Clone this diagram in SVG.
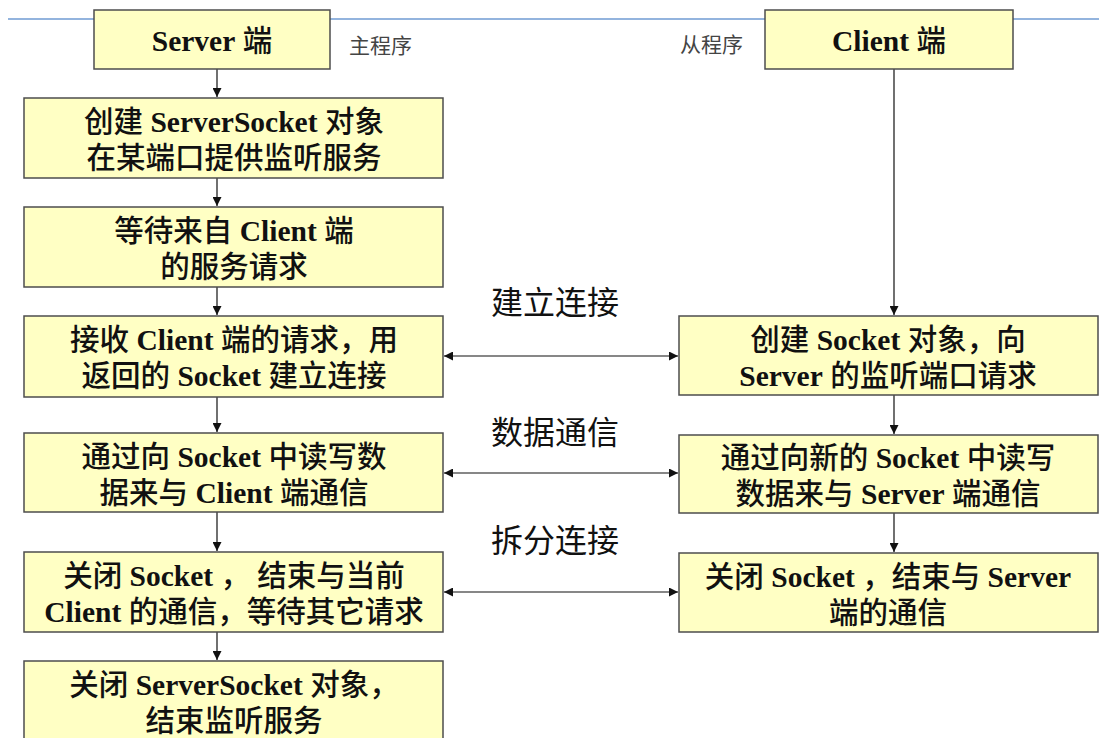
<svg xmlns="http://www.w3.org/2000/svg" width="1099" height="738" viewBox="0 0 1099 738">
<style>
.box{fill:#ffffc4;stroke:#4d4d4d;stroke-width:1.5}
.t{font-family:"Liberation Serif","Noto Sans CJK SC",serif;font-size:29.5px;font-weight:500;fill:#111;text-anchor:middle}
.b{font-weight:bold}
.lab{font-family:"Noto Sans CJK SC",sans-serif;font-size:32px;fill:#111;text-anchor:middle}
.sm{font-family:"Noto Sans CJK SC",sans-serif;font-size:21px;fill:#444}
.c{stroke:#111;stroke-width:1.2;fill:none}
</style>
<defs>
<marker id="ah" viewBox="0 0 10 10" refX="10" refY="5" markerWidth="9" markerHeight="9" markerUnits="userSpaceOnUse" orient="auto-start-reverse">
<path d="M0,0 L10,5 L0,10 z" fill="#111"/>
</marker>
</defs>
<line x1="8" y1="19" x2="1099" y2="19" stroke="#6f9bd3" stroke-width="1.5"/>
<text class="sm" x="349" y="53">主程序</text>
<text class="sm" x="680" y="52">从程序</text>
<g id="connectors">
<line class="c" x1="217" y1="69" x2="217" y2="97" marker-end="url(#ah)"/>
<line class="c" x1="217" y1="178" x2="217" y2="206" marker-end="url(#ah)"/>
<line class="c" x1="217" y1="287" x2="217" y2="315" marker-end="url(#ah)"/>
<line class="c" x1="217" y1="397" x2="217" y2="432" marker-end="url(#ah)"/>
<line class="c" x1="217" y1="512" x2="217" y2="551" marker-end="url(#ah)"/>
<line class="c" x1="217" y1="632" x2="217" y2="660" marker-end="url(#ah)"/>
<line class="c" x1="894" y1="69" x2="894" y2="315" marker-end="url(#ah)"/>
<line class="c" x1="894" y1="395" x2="894" y2="434" marker-end="url(#ah)"/>
<line class="c" x1="894" y1="513" x2="894" y2="552" marker-end="url(#ah)"/>
<line class="c" x1="444" y1="356" x2="678" y2="356" marker-start="url(#ah)" marker-end="url(#ah)"/>
<line class="c" x1="444" y1="473" x2="678" y2="473" marker-start="url(#ah)" marker-end="url(#ah)"/>
<line class="c" x1="444" y1="592" x2="678" y2="592" marker-start="url(#ah)" marker-end="url(#ah)"/>
</g>
<text class="lab" x="555" y="314">建立连接</text>
<text class="lab" x="555" y="444">数据通信</text>
<text class="lab" x="555" y="552">拆分连接</text>
<g id="server">
<rect class="box" x="94" y="10" width="236" height="59"/>
<text class="t" x="212" y="51"><tspan class="b">Server</tspan> 端</text>
</g>
<g id="client">
<rect class="box" x="765" y="10" width="248" height="59"/>
<text class="t" x="889" y="51"><tspan class="b">Client</tspan> 端</text>
</g>
<g id="s1">
<rect class="box" x="24" y="98" width="419" height="80"/>
<text class="t" x="234" y="132">创建 <tspan class="b">ServerSocket</tspan> 对象</text>
<text class="t" x="234" y="168">在某端口提供监听服务</text>
</g>
<g id="s2">
<rect class="box" x="24" y="207" width="419" height="80"/>
<text class="t" x="234" y="241">等待来自 <tspan class="b">Client</tspan> 端</text>
<text class="t" x="234" y="277">的服务请求</text>
</g>
<g id="s3">
<rect class="box" x="24" y="316" width="419" height="81"/>
<text class="t" x="234" y="350">接收 <tspan class="b">Client</tspan> 端的请求，用</text>
<text class="t" x="234" y="386">返回的 <tspan class="b">Socket</tspan> 建立连接</text>
</g>
<g id="s4">
<rect class="box" x="24" y="433" width="419" height="79"/>
<text class="t" x="234" y="467">通过向 <tspan class="b">Socket</tspan> 中读写数</text>
<text class="t" x="234" y="503">据来与 <tspan class="b">Client</tspan> 端通信</text>
</g>
<g id="s5">
<rect class="box" x="24" y="552" width="419" height="80"/>
<text class="t" x="234" y="586">关闭 <tspan class="b">Socket</tspan> ， 结束与当前</text>
<text class="t" x="234" y="622"><tspan class="b">Client</tspan> 的通信，等待其它请求</text>
</g>
<g id="s6">
<rect class="box" x="24" y="661" width="419" height="84"/>
<text class="t" x="234" y="695">关闭 <tspan class="b">ServerSocket</tspan> 对象，</text>
<text class="t" x="234" y="731">结束监听服务</text>
</g>
<g id="c1">
<rect class="box" x="679" y="316" width="419" height="79"/>
<text class="t" x="888" y="350">创建 <tspan class="b">Socket</tspan> 对象，向</text>
<text class="t" x="888" y="386"><tspan class="b">Server</tspan> 的监听端口请求</text>
</g>
<g id="c2">
<rect class="box" x="679" y="435" width="419" height="78"/>
<text class="t" x="888" y="468">通过向新的 <tspan class="b">Socket</tspan> 中读写</text>
<text class="t" x="888" y="504">数据来与 <tspan class="b">Server</tspan> 端通信</text>
</g>
<g id="c3">
<rect class="box" x="679" y="553" width="419" height="79"/>
<text class="t" x="888" y="587">关闭 <tspan class="b">Socket</tspan> ，结束与 <tspan class="b">Server</tspan></text>
<text class="t" x="888" y="623">端的通信</text>
</g>
</svg>
